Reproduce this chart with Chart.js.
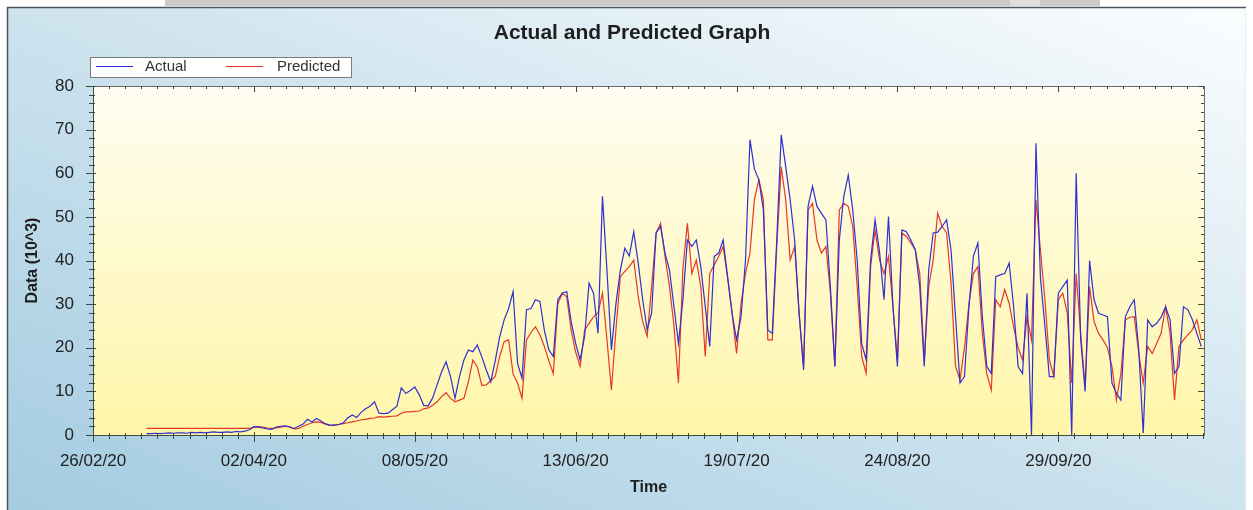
<!DOCTYPE html>
<html>
<head>
<meta charset="utf-8">
<script src="https://cdn.jsdelivr.net/npm/chart.js@4.4.1/dist/chart.umd.min.js"></script>
<style>
html,body{margin:0;padding:0;background:#fff;}
canvas{display:block;}
</style>
</head>
<body>
<canvas id="c" width="1253" height="510"></canvas>
<script>
// ---- data (day index 0 = 26/02/20) ----
const firstDay = 12;
const tickDays = [0, 36, 72, 108, 144, 180, 216];
const tickLabels = ['26/02/20', '02/04/20', '08/05/20', '13/06/20', '19/07/20', '24/08/20', '29/09/20'];
const yTicks = [0, 10, 20, 30, 40, 50, 60, 70, 80];
const seriesNames = ['Actual', 'Predicted'];

const actual = [
  0.3,0.3,0.4,0.3,0.4,0.5,0.4,0.5,0.5,0.4,0.6,0.5,0.6,0.5,0.6,0.7,0.6,0.6,0.7,0.6,0.8,0.7,0.9,
  1.2,1.9,1.8,1.6,1.4,1.3,1.8,2.0,2.1,1.9,1.5,2.0,2.5,3.6,3.0,3.8,3.2,2.6,2.2,2.3,2.4,2.8,3.9,4.6,4.0,
  5.2,6.0,6.6,7.6,5.0,4.9,5.0,5.8,6.6,
  10.8,9.5,10.2,11,9.2,6.8,6.7,8.5,11.5,14.5,16.8,13.4,8.4,13.4,17.2,19.5,19.1,20.6,17.9,14.9,12.2,
  17.0,22.5,26.4,29,32.9,16.4,13,28.7,29,31,30.6,24,19.5,18,31,32.5,32.9,26,21,17.2,22.6,34.8,32.5,
  23.3,54.7,37.8,19.5,30,37.8,42.8,41,46.6,39.4,31,24.1,28,46.3,47.8,41.7,37.8,29.4,21,31,44.7,43.2,
  44.7,38.6,29.4,20.3,40.9,41.7,44.7,36.3,27.9,21.8,27,40,67.7,61,58.5,51.6,24.1,23.3,44.7,68.8,61.5,
  53.9,44.7,27.9,14.9,52.4,57,52.4,50.8,49.3,34,15.7,44.7,54.7,59.6,51.6,40,21,17.2,40.1,49.3,42,31,
  50.1,29.4,15.7,47,46.6,44.7,42.4,34,15.7,37.8,46.3,46.5,47.8,49.3,42.4,27.1,11.9,13.4,29.4,41,44,
  27.1,15.7,14.1,36.3,36.7,37,39.4,29.4,15.7,14.1,32.5,0,66.9,36,25,13.4,13.4,32.5,34,35.5,0,60,22,
  10,40,31,27.9,27.5,27.1,11.9,9.6,8,27.1,29.4,31,19.5,0.4,26.4,24.8,25.6,27,29.4,26.4,14.1,15.7,
  29.4,28.7,26.4,23.3,20.3
];

const predicted = [
  1.5,1.5,1.5,1.5,1.5,1.5,1.5,1.5,1.5,1.5,1.5,1.5,1.5,1.5,1.5,1.5,1.5,1.5,1.5,1.5,1.5,1.5,1.5,1.5,
  1.8,1.9,1.8,1.6,1.5,1.6,1.8,2.0,1.8,1.4,1.5,2.0,2.4,2.8,3.0,2.9,2.5,2.2,2.2,2.4,2.6,2.8,3.0,3.2,
  3.5,3.6,3.8,3.9,4.2,4.1,4.2,4.3,4.4,5.0,5.3,5.3,5.4,5.5,6.0,6.2,6.8,7.6,8.8,9.7,8.4,7.6,8.0,8.4,
  12.2,17.2,15.6,11.4,11.5,12.5,13.4,18,21.4,21.8,14,11.9,8.4,21.8,23.5,24.8,23,20.3,17,14.1,30,
  32.5,31.7,24,19,15.7,24,25.6,27.1,28,32.5,22,10.3,24,36.3,37.5,38.6,40.1,31.7,26,22.6,34,46.3,
  48.5,40.9,34,25,11.9,38.2,48.5,37,40.1,34,18,37,39,40.9,43.2,36,28,18.7,30,37,41.7,54,58.5,53.9,
  21.8,21.8,43.2,61.5,53.9,40.1,43.2,27.9,15.7,51.6,53.1,44.7,41.7,43.2,32.5,15.7,51.6,53.1,52.4,
  47.8,34,18,14.1,38.6,47,40.1,37,40.9,29.4,17.2,46.3,45.5,44,42.4,37,17.2,34,40.1,50.8,47.8,46.3,
  34.8,15.7,12.6,20,30,37,38.6,23.3,14,10.3,31,29.4,33.3,30.2,24.8,20,17.2,27.1,21.8,53.9,42.4,31,
  17.2,13.4,31,32.5,28,11.9,37,23.3,11.1,34,26,23.3,21.8,20,15.7,8,14,26.4,27,27.1,18.7,11.9,20.3,
  18.7,21,23.3,29.4,23.3,8,20.3,21.8,23,24.1,26.4,21.8
];

const seriesColors = ['#2f2fd2', '#e5372a'];
const FONT = '"Liberation Sans", Arial, sans-serif';
const xMajorStep = 36, xMinorPerMajor = 10, yMinorStep = 2;

const decor = {
  id: 'decor',
  beforeDraw(chart) {
    const c = chart.ctx, W = chart.width, H = chart.height, a = chart.chartArea;
    c.save();
    c.fillStyle = '#ffffff'; c.fillRect(0, 0, W, H);
    c.fillStyle = '#cbcbcb'; c.fillRect(165, 0, 845, 6);
    c.fillStyle = '#dedede'; c.fillRect(1010, 0, 30, 6);
    c.fillStyle = '#cbcbcb'; c.fillRect(1040, 0, 60, 6);
    const g = c.createLinearGradient(450, 690, 801, -174);
    g.addColorStop(0, '#a4cce1');
    g.addColorStop(0.5, '#cde3ee');
    g.addColorStop(1, '#fbfdfe');
    c.fillStyle = g; c.fillRect(7, 7, 1239, H - 7);
    c.strokeStyle = '#4a5661'; c.lineWidth = 1.5;
    c.beginPath(); c.moveTo(7.5, H); c.lineTo(7.5, 7.5); c.lineTo(1246, 7.5); c.stroke();
    c.strokeStyle = '#e3ecf1'; c.lineWidth = 1;
    c.beginPath(); c.moveTo(1245.5, 8); c.lineTo(1245.5, H); c.stroke();
    const pg = c.createLinearGradient(0, a.top, 0, a.bottom);
    pg.addColorStop(0, '#fffdf2');
    pg.addColorStop(1, '#fff6a8');
    c.fillStyle = pg; c.fillRect(a.left, a.top, a.right - a.left, a.bottom - a.top);
    c.restore();
  },
  afterDatasetsDraw(chart) {
    const c = chart.ctx, a = chart.chartArea, xs = chart.scales.x, ys = chart.scales.y;
    c.save();
    // frame of plot
    c.strokeStyle = '#6b6b6b'; c.lineWidth = 1;
    c.strokeRect(Math.round(a.left) + 0.5, Math.round(a.top) + 0.5, Math.round(a.right - a.left), Math.round(a.bottom - a.top));
    c.strokeStyle = '#3d4a3f';
    c.beginPath();
    c.moveTo(Math.round(a.left) + 0.5, a.top); c.lineTo(Math.round(a.left) + 0.5, Math.round(a.bottom) + 0.5);
    c.lineTo(a.right, Math.round(a.bottom) + 0.5);
    c.stroke();
    // x ticks
    const minorX = xMajorStep / xMinorPerMajor;
    c.beginPath();
    for (let k = 0; k * minorX <= xs.max + 1e-6; k++) {
      const px = Math.round(xs.getPixelForValue(k * minorX)) + 0.5;
      const major = k % xMinorPerMajor === 0;
      c.moveTo(px, a.bottom - (major ? 3 : 2)); c.lineTo(px, a.bottom + (major ? 7 : 4));
      c.moveTo(px, a.top); c.lineTo(px, a.top + (major ? 6 : 3));
    }
    for (let v = ys.min; v <= ys.max + 1e-6; v += yMinorStep) {
      const py = Math.round(ys.getPixelForValue(v)) + 0.5;
      const major = v % 10 === 0;
      c.moveTo(a.left - (major ? 7 : 4), py); c.lineTo(a.left + (major ? 3 : 2), py);
      c.moveTo(a.right - (major ? 6 : 3), py); c.lineTo(a.right, py);
    }
    c.stroke();
    c.restore();
  },
  afterDraw(chart) {
    const c = chart.ctx;
    c.save();
    // title
    c.fillStyle = '#1e1e1e';
    c.font = 'bold 21px ' + FONT;
    c.textAlign = 'center'; c.textBaseline = 'middle';
    c.fillText('Actual and Predicted Graph', 632, 33);
    // legend
    c.fillStyle = '#ffffff';
    c.fillRect(90, 57, 262, 21);
    c.strokeStyle = '#7a7a7a'; c.lineWidth = 1;
    c.strokeRect(90.5, 57.5, 261, 20);
    const items = chart.data.datasets;
    const lx = [96, 226], tx = [145, 277];
    c.font = '15px ' + FONT; c.textAlign = 'left'; c.textBaseline = 'middle';
    items.forEach((ds, i) => {
      c.strokeStyle = ds.borderColor; c.lineWidth = 1;
      c.beginPath(); c.moveTo(lx[i], 66.5); c.lineTo(lx[i] + 37, 66.5); c.stroke();
      c.fillStyle = '#333333';
      c.fillText(ds.label, tx[i], 67);
    });
    c.restore();
  }
};

Chart.defaults.font.family = FONT;

new Chart(document.getElementById('c'), {
  type: 'line',
  data: {
    datasets: [
      { label: seriesNames[0], data: actual.map((v, i) => ({ x: firstDay + i, y: v })),
        borderColor: seriesColors[0], borderWidth: 1.2, pointRadius: 0, tension: 0, fill: false },
      { label: seriesNames[1], data: predicted.map((v, i) => ({ x: firstDay + i, y: v })),
        borderColor: seriesColors[1], borderWidth: 1.2, pointRadius: 0, tension: 0, fill: false }
    ]
  },
  options: {
    responsive: false,
    animation: false,
    devicePixelRatio: 1,
    layout: { padding: { left: 15, top: 86, right: 49, bottom: 0 } },
    plugins: { legend: { display: false }, title: { display: false }, tooltip: { enabled: false } },
    scales: {
      x: {
        type: 'linear', min: 0, max: 248.6,
        afterFit: s => { s.height = 75; },
        afterBuildTicks: s => { s.ticks = tickDays.map(v => ({ value: v })); },
        ticks: { autoSkip: false, maxRotation: 0, padding: 16, color: '#222',
                 font: { size: 17 }, callback: v => tickLabels[tickDays.indexOf(v)] },
        grid: { display: false, drawTicks: false },
        border: { display: false },
        title: { display: true, text: 'Time', color: '#1e1e1e',
                 font: { size: 16, weight: 'bold' }, padding: { top: 0, bottom: 13 } }
      },
      y: {
        min: 0, max: 80,
        afterFit: s => { s.width = 78; },
        afterBuildTicks: s => { s.ticks = yTicks.map(v => ({ value: v })); },
        ticks: { padding: 19, color: '#222', font: { size: 17 } },
        grid: { display: false, drawTicks: false },
        border: { display: false },
        title: { display: true, text: 'Data (10^3)', color: '#1e1e1e',
                 font: { size: 16, weight: 'bold' }, padding: { top: 8, bottom: 0 } }
      }
    }
  },
  plugins: [decor]
});
</script>
</body>
</html>
